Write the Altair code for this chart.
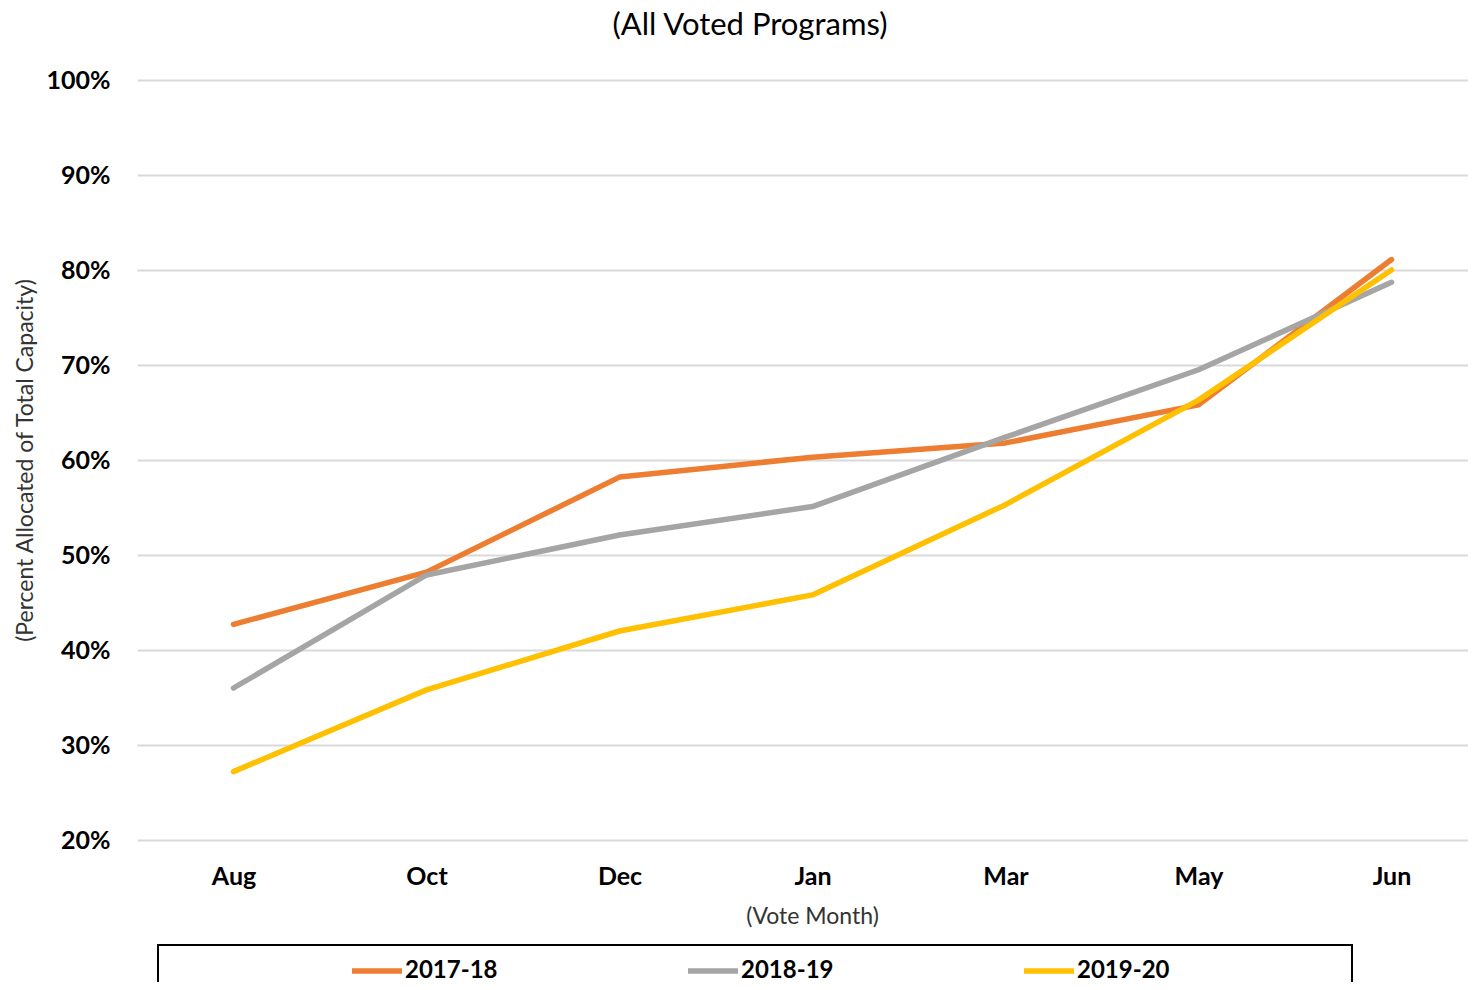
import altair as alt
import pandas as pd

months = ["Aug", "Oct", "Dec", "Jan", "Mar", "May", "Jun"]
series = ["2017-18", "2018-19", "2019-20"]
v_2017_18 = [0.427, 0.482, 0.582, 0.603, 0.618, 0.658, 0.811]
v_2018_19 = [0.360, 0.479, 0.521, 0.551, 0.624, 0.695, 0.787]
v_2019_20 = [0.272, 0.358, 0.420, 0.458, 0.553, 0.663, 0.800]
colors = ["#ED7D31", "#A5A5A5", "#FFC000"]
y_ticks = [0.2, 0.3, 0.4, 0.5, 0.6, 0.7, 0.8, 0.9, 1.0]
title_text = "(All Voted Programs)"

rows = []
for name, vals in zip(series, [v_2017_18, v_2018_19, v_2019_20]):
    for m, v in zip(months, vals):
        rows.append({"month": m, "series": name, "value": v})
df = pd.DataFrame(rows)

FONT = "Lato"

lines = alt.Chart(df).mark_line(strokeWidth=5.5, strokeCap="round", strokeJoin="round").encode(
    x=alt.X("month:N", sort=months,
            scale=alt.Scale(type="point", padding=0.4482, align=0.5578),
            axis=alt.Axis(title="(Vote Month)", labelAngle=0, ticks=False, domain=False,
                          grid=False, labelFont=FONT, labelFontSize=25, labelFontWeight="bold",
                          labelColor="#000000", labelBaseline="middle", labelPadding=36,
                          titleFont=FONT, titleFontSize=23, titleFontWeight="normal",
                          titleColor="#333333", titleX=675, titleY=83,
                          titleBaseline="alphabetic")),
    y=alt.Y("value:Q",
            scale=alt.Scale(domain=[0.2, 1.0], nice=False, zero=False),
            axis=alt.Axis(title="(Percent Allocated of Total Capacity)", format=".0%",
                          values=y_ticks, ticks=False, domain=False, grid=True,
                          gridColor="#d9d9d9", gridWidth=2,
                          labelFont=FONT, labelFontSize=25, labelFontWeight="bold",
                          labelColor="#000000", labelPadding=27,
                          titleFont=FONT, titleFontSize=23, titleFontWeight="normal",
                          titleColor="#333333", titleX=-112, titleY=380,
                          titleBaseline="middle")),
    color=alt.Color("series:N", sort=series,
                    scale=alt.Scale(domain=series, range=colors),
                    legend=alt.Legend(title=None, orient="none", legendX=212, legendY=863,
                                      direction="horizontal", symbolType="stroke",
                                      symbolSize=2500, symbolStrokeWidth=5.5,
                                      labelFont=FONT, labelFontSize=24, labelFontWeight="bold",
                                      labelColor="#000000", labelOffset=0,
                                      columnPadding=179, padding=0)),
)

box = alt.Chart(alt.Data(values=[{"a": 1}])).mark_rect(
    fill=None, filled=False, stroke="#000000", strokeWidth=2
).encode(
    x=alt.value(21), x2=alt.value(1215), y=alt.value(865), y2=alt.value(980)
)

title = alt.Chart(alt.Data(values=[{"t": title_text}])).mark_text(
    font=FONT, fontSize=31, fontWeight="normal", color="#000000",
    align="center", baseline="alphabetic"
).encode(
    text="t:N", x=alt.value(613), y=alt.value(-45)
)

chart = alt.layer(lines, box, title).properties(
    width=1331, height=760,
    autosize=alt.AutoSizeParams(type="none"),
    padding={"left": 129, "top": 72, "right": 0, "bottom": 142},
).configure(background="white", view=alt.ViewConfig(stroke=None))

chart.save("out.html", embed_options={"renderer": "svg", "actions": False})
